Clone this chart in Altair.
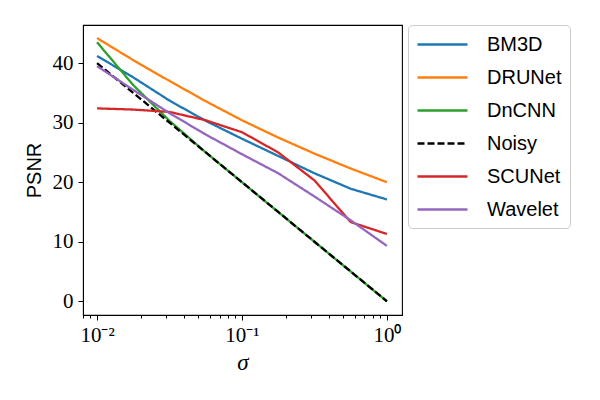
import altair as alt
import pandas as pd

sigma = [0.01, 0.01778, 0.03162, 0.05623, 0.1, 0.1778, 0.3162, 0.5623, 1.0]
methods = ["BM3D", "DRUNet", "DnCNN", "Noisy", "SCUNet", "Wavelet"]
bm3d = [41.2, 37.6, 33.7, 30.3, 27.3, 24.4, 21.5, 18.9, 17.1]
drunet = [44.2, 40.5, 37.0, 33.6, 30.4, 27.5, 24.8, 22.3, 20.0]
dncnn = [43.5, 36.3, 30.3, 25.0, 20.0, 15.0, 10.0, 5.0, 0.0]
noisy = [40.0, 35.0, 30.0, 25.0, 20.0, 15.0, 10.0, 5.0, 0.0]
scunet = [32.4, 32.2, 31.8, 30.4, 28.4, 25.0, 20.3, 13.3, 11.3]
wavelet = [39.5, 35.5, 31.6, 28.0, 24.7, 21.5, 17.6, 13.6, 9.3]
colors = ["#1f77b4", "#ff7f0e", "#2ca02c", "#000000", "#d62728", "#9467bd"]
dashes = [[1, 0], [1, 0], [1, 0], [7, 3], [1, 0], [1, 0]]

major_ticks = [0.01, 0.1, 1.0]
minor_ticks = [0.008, 0.009,
               0.02, 0.03, 0.04, 0.05, 0.06, 0.07, 0.08, 0.09,
               0.2, 0.3, 0.4, 0.5, 0.6, 0.7, 0.8, 0.9]
y_ticks = [0, 10, 20, 30, 40]

series = [bm3d, drunet, dncnn, noisy, scunet, wavelet]
rows = []
for order, (m, vals) in enumerate(zip(methods, series)):
    for s, v in zip(sigma, vals):
        rows.append({"method": m, "sigma": s, "psnr": v, "order": order})
df = pd.DataFrame(rows)

x_axis = alt.Axis(
    values=major_ticks + minor_ticks,
    labelExpr="datum.value === 0.01 ? '10⁻²' : datum.value === 0.1 ? '10⁻¹' : datum.value === 1 ? '10⁰' : ''",
    tickSize={"condition": {"test": "datum.value === 0.01 || datum.value === 0.1 || datum.value === 1", "value": 5}, "value": 3},
    labelFont="Liberation Serif", labelFontSize=21, labelPadding=4, labelColor="black",
    title="σ", titleFont="Liberation Serif", titleFontStyle="italic", titleFontSize=23,
    titleFontWeight="normal", titleColor="black", titlePadding=6,
    grid=False, domainColor="black", tickColor="black", tickWidth=1, labelFlush=False,
)
y_axis = alt.Axis(
    values=y_ticks, labelFont="Liberation Serif", labelFontSize=21, labelPadding=5,
    labelColor="black", tickSize=5, tickColor="black", tickWidth=1,
    title="PSNR", titleFont="Liberation Sans", titleFontSize=20, titleFontWeight="normal",
    titleColor="black", titlePadding=8, grid=False, domainColor="black",
)

legend = alt.Legend(
    title=None, orient="none", legendX=325, legendY=0,
    symbolType="M-2.5,0L2.5,0", symbolSize=400, symbolStrokeWidth=2.5,
    symbolOffset=15, labelOffset=33, labelFont="Liberation Sans", labelFontSize=20,
    labelColor="black", rowPadding=11, padding=8, strokeColor="#cccccc",
    cornerRadius=4, fillColor="white",
)

chart = alt.Chart(df).mark_line(strokeWidth=2.3, clip=True).encode(
    x=alt.X("sigma:Q", scale=alt.Scale(type="log", domain=[0.008, 1.27], nice=False), axis=x_axis),
    y=alt.Y("psnr:Q", scale=alt.Scale(domain=[-2.3, 46.4], nice=False, zero=False), axis=y_axis),
    color=alt.Color("method:N", scale=alt.Scale(domain=methods, range=colors), legend=legend),
    strokeDash=alt.StrokeDash("method:N", scale=alt.Scale(domain=methods, range=dashes), legend=legend),
    order=alt.Order("order:Q"),
).properties(
    width=319, height=290,
    background="white",
    autosize=alt.AutoSizeParams(type="none"),
    padding={"left": 83, "top": 25, "right": 198, "bottom": 85},
).configure_view(stroke="black", strokeWidth=1.1)

chart.save("out.html", embed_options={"renderer": "svg", "actions": False})
